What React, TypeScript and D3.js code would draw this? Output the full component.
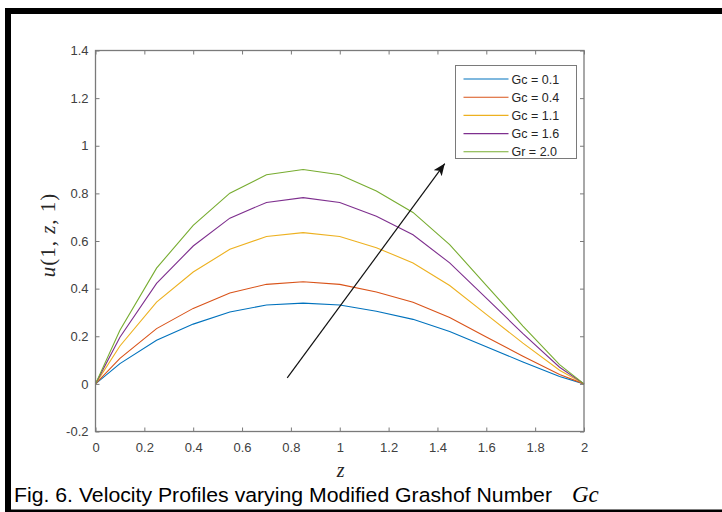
import { useEffect, useRef } from "react"
import * as d3 from "d3"

// z positions of the computed points
const zValues = [0, 0.1, 0.25, 0.4, 0.55, 0.7, 0.85, 1.0, 1.15, 1.3, 1.45, 1.6, 1.75, 1.9, 2.0]

// u(1, z, 1) for each Gc
const gc01 = [0, 0.085, 0.183, 0.251, 0.302, 0.331, 0.339, 0.331, 0.305, 0.271, 0.22, 0.156, 0.092, 0.031, 0]
const gc04 = [0, 0.107, 0.232, 0.317, 0.382, 0.418, 0.429, 0.418, 0.386, 0.343, 0.279, 0.197, 0.116, 0.039, 0]
const gc11 = [0, 0.159, 0.343, 0.47, 0.565, 0.619, 0.635, 0.619, 0.572, 0.508, 0.413, 0.292, 0.171, 0.057, 0]
const gc16 = [0, 0.196, 0.422, 0.579, 0.696, 0.762, 0.782, 0.762, 0.704, 0.626, 0.508, 0.36, 0.211, 0.07, 0]
const gr20 = [0, 0.225, 0.486, 0.666, 0.801, 0.878, 0.9, 0.878, 0.81, 0.72, 0.585, 0.414, 0.243, 0.081, 0]

const seriesValues = [gc01, gc04, gc11, gc16, gr20]
const seriesLabels = ["Gc = 0.1", "Gc = 0.4", "Gc = 1.1", "Gc = 1.6", "Gr = 2.0"]
const seriesColors = ["#0072BD", "#D95319", "#EDB120", "#7E2F8E", "#77AC30"]

const xTicks = [0, 0.2, 0.4, 0.6, 0.8, 1, 1.2, 1.4, 1.6, 1.8, 2]
const yTicks = [-0.2, 0, 0.2, 0.4, 0.6, 0.8, 1, 1.2, 1.4]

// arrow annotation (data coords): tail, head
const arrowTail = [0.785, 0.025]
const arrowHead = [1.43, 0.925]

const W = 722
const H = 512
const left = 95.5
const right = 584
const top = 50.5
const bottom = 431.5

const fmt = (d: any) => String(+(+d).toFixed(1))

const App = () => {
  const xRef = useRef<SVGGElement>(null)
  const yRef = useRef<SVGGElement>(null)
  const tRef = useRef<SVGGElement>(null)
  const rRef = useRef<SVGGElement>(null)

  const x = d3.scaleLinear().domain([0, 2]).range([left, right])
  const y = d3.scaleLinear().domain([-0.2, 1.4]).range([bottom, top])

  const line = d3
    .line<number>()
    .x((_, i) => x(zValues[i]))
    .y((d) => y(d))

  useEffect(() => {
    const style = (sel: any) => {
      sel.select(".domain").remove()
      sel.selectAll(".tick line").attr("stroke", "#7a7a7a")
      sel
        .selectAll(".tick text")
        .attr("fill", "#404040")
        .attr("font-size", 13)
        .attr("font-family", "Liberation Sans, Arial, sans-serif")
    }
    d3.select(xRef.current)
      .call(d3.axisBottom(x).tickValues(xTicks).tickSize(-4).tickSizeOuter(0).tickPadding(11.5).tickFormat(fmt) as any)
      .call(style)
    d3.select(yRef.current)
      .call(d3.axisLeft(y).tickValues(yTicks).tickSize(-4).tickSizeOuter(0).tickPadding(7).tickFormat(fmt) as any)
      .call(style)
    d3.select(tRef.current)
      .call(d3.axisTop(x).tickValues(xTicks).tickSize(-4).tickSizeOuter(0).tickFormat(() => "") as any)
      .call(style)
    d3.select(rRef.current)
      .call(d3.axisRight(y).tickValues(yTicks).tickSize(-4).tickSizeOuter(0).tickFormat(() => "") as any)
      .call(style)
  }, [])

  const legendX = 455.5
  const legendY = 65.5
  const rowH = 18.2

  return (
    <svg
      width={W}
      height={H}
      style={{ position: "absolute", left: 0, top: 0, background: "#fff" }}
    >
      <defs>
        <marker
          id="arrowhead"
          markerUnits="userSpaceOnUse"
          markerWidth={14}
          markerHeight={12}
          refX={12}
          refY={5}
          orient="auto"
        >
          <path d="M0,0 L12,5 L0,10 L3,5 Z" fill="#111" />
        </marker>
      </defs>

      {/* outer frame */}
      <rect x={5} y={8} width={W - 5} height={6} fill="#000" />
      <rect x={5} y={8} width={6} height={H - 8} fill="#000" />
      <rect x={5} y={509.5} width={W - 5} height={2.5} fill="#000" />

      <g ref={xRef} transform={`translate(0,${bottom})`} />
      <g ref={yRef} transform={`translate(${left},0)`} />
      <g ref={tRef} transform={`translate(0,${top})`} />
      <g ref={rRef} transform={`translate(${right},0)`} />

      {seriesValues.map((vals, i) => (
        <path
          key={i}
          d={line(vals) ?? ""}
          fill="none"
          stroke={seriesColors[i]}
          strokeWidth={1.1}
        />
      ))}

      <rect
        x={left}
        y={top}
        width={right - left}
        height={bottom - top}
        fill="none"
        stroke="#7a7a7a"
        strokeWidth={1.3}
      />

      <line
        x1={x(arrowTail[0])}
        y1={y(arrowTail[1])}
        x2={x(arrowHead[0])}
        y2={y(arrowHead[1])}
        stroke="#111"
        strokeWidth={1.2}
        markerEnd="url(#arrowhead)"
      />

      {/* legend */}
      <rect
        x={legendX}
        y={legendY}
        width={121}
        height={93}
        fill="#fff"
        stroke="#7a7a7a"
        strokeWidth={1}
      />
      {seriesLabels.map((lab, i) => {
        const yy = legendY + 13.5 + i * rowH
        return (
          <g key={lab}>
            <line x1={legendX + 8} x2={legendX + 53} y1={yy} y2={yy} stroke={seriesColors[i]} strokeWidth={1.1} />
            <text
              x={legendX + 56}
              y={yy + 4.5}
              fontSize={12.5}
              fill="#262626"
              fontFamily="Liberation Sans, Arial, sans-serif"
            >
              {lab}
            </text>
          </g>
        )
      })}

      {/* axis labels */}
      <text
        transform="translate(55,235) rotate(-90)"
        textAnchor="middle"
        fontSize={21}
        fill="#262626"
        letterSpacing={1}
        fontFamily="Liberation Serif, Times New Roman, serif"
      >
        <tspan fontStyle="italic">u</tspan>
        <tspan>(1, </tspan>
        <tspan fontStyle="italic">z</tspan>
        <tspan>, 1)</tspan>
      </text>
      <text
        x={(left + right) / 2 + 1}
        y={477}
        textAnchor="middle"
        fontSize={20}
        fontStyle="italic"
        fill="#262626"
        fontFamily="Liberation Serif, Times New Roman, serif"
      >
        z
      </text>

      {/* caption */}
      <text
        x={14}
        y={502}
        fontSize={20.5}
        textLength={538}
        lengthAdjust="spacingAndGlyphs"
        fill="#000"
        fontFamily="Liberation Sans, Arial, sans-serif"
      >
        Fig. 6. Velocity Profiles varying Modified Grashof Number
      </text>
      <text
        x={572}
        y={502}
        fontSize={23}
        fontStyle="italic"
        fill="#000"
        fontFamily="Liberation Serif, Times New Roman, serif"
      >
        Gc
      </text>
    </svg>
  )
}

export default App
